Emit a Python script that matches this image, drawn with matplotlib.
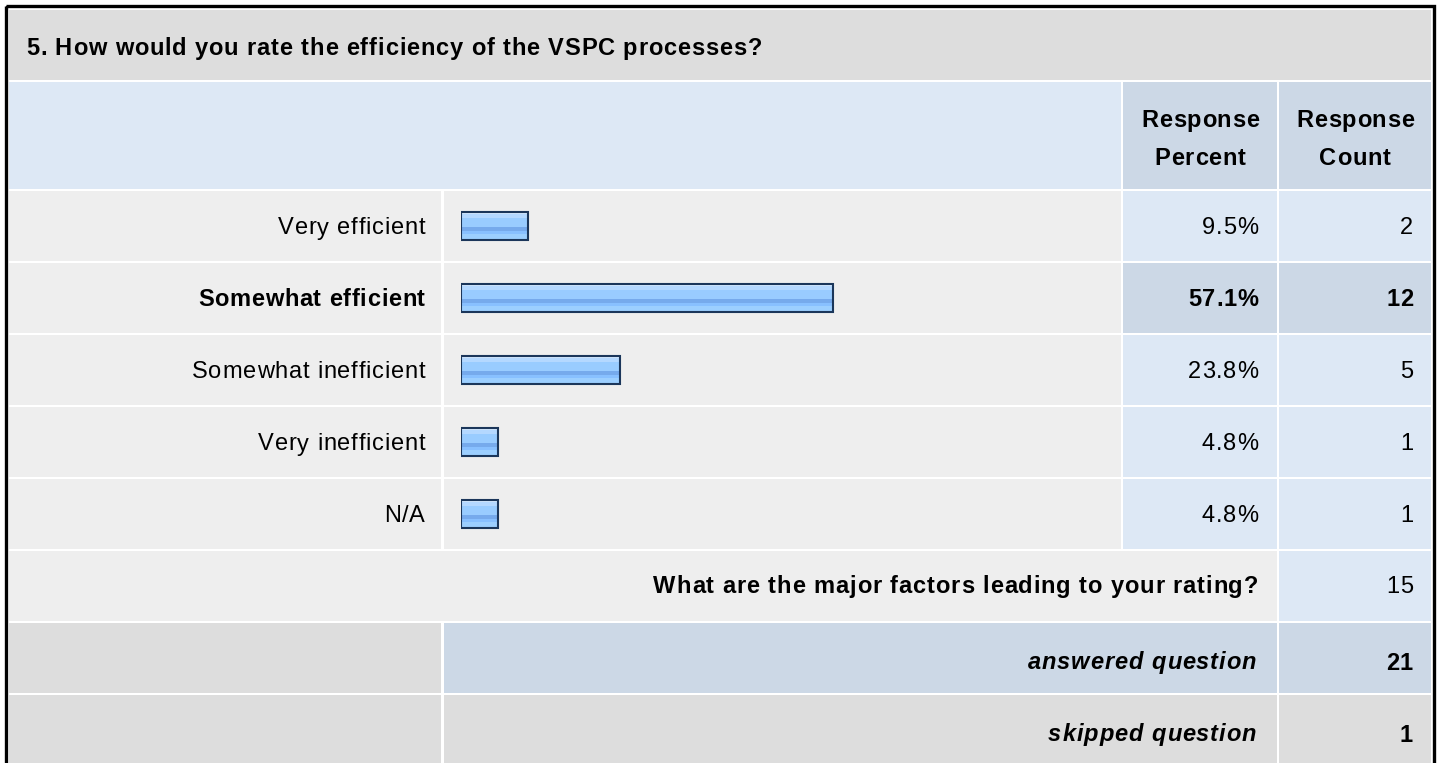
import numpy as np
import matplotlib.pyplot as plt
from matplotlib import font_manager
from matplotlib.ft2font import FT2Font
from matplotlib.patches import Rectangle
from matplotlib.colors import to_rgb

FAMILY = "Liberation Sans"
plt.rcParams['font.family'] = [FAMILY, 'DejaVu Sans']

title = "5. How would you rate the efficiency of the VSPC processes?"
answers = ["Very efficient", "Somewhat efficient", "Somewhat inefficient",
           "Very inefficient", "N/A"]
percents = [9.5, 57.1, 23.8, 4.8, 4.8]
counts = [2, 12, 5, 1, 1]
highlight = 1  # the row shown in bold
factors_label = "What are the major factors leading to your rating?"
factors_count = 15
answered = 21
skipped = 1

W, H = 1440, 763
TITLE_BG = "#dddddd"
HEAD_BG = "#dde8f5"
HEAD_DARK = "#ccd8e6"
ROW_BG = "#eeeeee"
NAVY = "#1b365a"
FS = 17

fig = plt.figure(figsize=(W / 100, H / 100), dpi=100)
fig.patch.set_facecolor("white")
ax = fig.add_axes([0, 0, 1, 1])
ax.set_xlim(0, W)
ax.set_ylim(H, 0)
ax.axis("off")

_fonts = {}


def advances(s, weight, style):
    key = (weight, style)
    if key not in _fonts:
        fp = font_manager.FontProperties(family=FAMILY, weight=weight, style=style)
        _fonts[key] = FT2Font(font_manager.findfont(fp))
    font = _fonts[key]
    font.set_size(FS, 100)
    return [font.load_char(ord(c)).linearHoriAdvance / 65536 for c in s]


def txt(x, y, s, ha="left", weight="normal", style="normal", track=None):
    """text with a little extra letter spacing, y is the baseline"""
    if track is None:
        track = 0.8 if weight == "normal" else 0.7
    adv = advances(s, weight, style)
    total = sum(adv) + track * (len(s) - 1)
    if ha == "right":
        x -= total
    elif ha == "center":
        x -= total / 2
    for ch, a in zip(s, adv):
        ax.text(x, y, ch, fontsize=FS, fontweight=weight, style=style,
                ha="left", va="baseline", zorder=4)
        x += a + track


def cell(x0, y0, x1, y1, color):
    ax.add_patch(Rectangle((x0, y0), x1 - x0, y1 - y0, facecolor=color,
                           edgecolor="none", zorder=1))


# outer frame
ax.add_patch(Rectangle((5.5, 6.0), 1428.5, 770, facecolor="none",
                       edgecolor="black", lw=2.4, zorder=3))

# column edges
c_lab = (9, 441)
c_bar = (444, 1121)
c_pct = (1123, 1277)
c_cnt = (1279, 1431)
row_top = 191
pitch = 72
cell_h = 70
x_pct = 1258
x_cnt = 1413

# title and header
cell(9, 10, 1431, 80, TITLE_BG)
txt(26, 55, title, weight="bold", track=0.85)
cell(9, 82, c_bar[1], 189, HEAD_BG)
cell(c_pct[0], 82, c_pct[1], 189, HEAD_DARK)
cell(c_cnt[0], 82, c_cnt[1], 189, HEAD_DARK)
for col, second in [(c_pct, "Percent"), (c_cnt, "Count")]:
    txt(sum(col) / 2, 127, "Response", ha="center", weight="bold")
    txt(sum(col) / 2, 165, second, ha="center", weight="bold")

# answer rows
for i, (lab, pct, cnt) in enumerate(zip(answers, percents, counts)):
    y0 = row_top + i * pitch
    y1 = y0 + cell_h
    base = (y0 + y1) / 2 + 8.5
    side = HEAD_DARK if i == highlight else HEAD_BG
    cell(c_lab[0], y0, c_lab[1], y1, ROW_BG)
    cell(c_bar[0], y0, c_bar[1], y1, ROW_BG)
    cell(c_pct[0], y0, c_pct[1], y1, side)
    cell(c_cnt[0], y0, c_cnt[1], y1, side)
    fw = "bold" if i == highlight else "normal"
    txt(425, base, lab, ha="right", weight=fw)
    txt(x_pct, base, f"{pct}%", ha="right", weight=fw)
    txt(x_cnt, base, str(cnt), ha="right", weight=fw)

# factors row
y0 = row_top + 5 * pitch
cell(9, y0, c_pct[1], y0 + cell_h, ROW_BG)
cell(c_cnt[0], y0, c_cnt[1], y0 + cell_h, HEAD_BG)
txt(x_pct, y0 + 42, factors_label, ha="right", weight="bold", track=0.9)
txt(x_cnt, y0 + 42, str(factors_count), ha="right")

# answered / skipped
for k, (lab, val, mid) in enumerate([("answered question", answered, HEAD_DARK),
                                     ("skipped question", skipped, TITLE_BG)]):
    y0 = row_top + (6 + k) * pitch
    y1 = y0 + cell_h if k == 0 else H + 5
    cell(c_lab[0], y0, c_lab[1], y1, TITLE_BG)
    cell(c_bar[0], y0, c_pct[1], y1, mid)
    cell(c_cnt[0], y0, c_cnt[1], y1, mid)
    txt(1256, y0 + 46, lab, ha="right", weight="bold", style="italic", track=0.9)
    txt(x_cnt, y0 + 47, str(val), ha="right", weight="bold")

# bars: own axes in percent units; every bar gets a small stub of
# `pad` percent in front of zero, like the survey tool draws them
pad = 1.0
bx0 = 461
bw = 647
bh = 5 * pitch
bax = fig.add_axes([bx0 / W, (H - row_top + 1 - bh) / H, bw / W, bh / H])
bax.axis("off")
bax.patch.set_alpha(0)

stops = [("#d2e8ff", 2), ("#b4d8ff", 3), ("#99ccff", 8), ("#76aaec", 3),
         ("#88c0ff", 3), ("#9ccfff", 5)]
grad = np.vstack([np.tile(to_rgb(c), (n, 1)) for c, n in stops])[:, None, :]

bars = bax.barh(range(len(percents)), np.array(percents) + pad, left=-pad,
                height=28 / pitch, facecolor="#99ccff", edgecolor=NAVY,
                lw=1.5, zorder=3)
for p in bars.patches:
    im = bax.imshow(grad, extent=[p.get_x(), p.get_x() + p.get_width(),
                                  p.get_y() + p.get_height(), p.get_y()],
                    aspect="auto", interpolation="nearest", zorder=2)
    im.set_clip_path(p)
    p.set_facecolor("none")
bax.set_xlim(-pad, 100)
bax.set_ylim(4.5, -0.5)

fig.savefig("out.png", dpi=100)
